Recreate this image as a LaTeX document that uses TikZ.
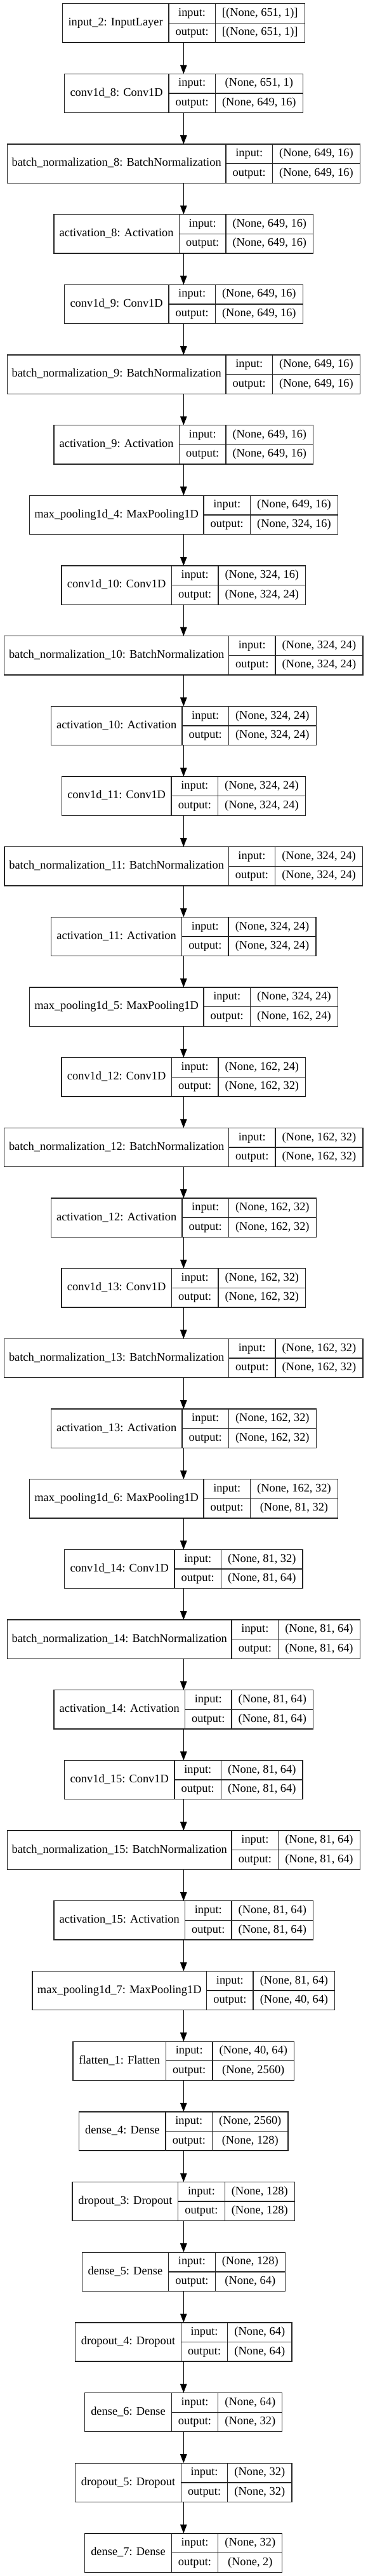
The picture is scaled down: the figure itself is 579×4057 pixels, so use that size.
\documentclass[tikz,border=0pt]{standalone}
\usepackage{fontspec}
\setmainfont{Liberation Serif}
\usetikzlibrary{arrows.meta}
\font\lbfont="Liberation Serif" at 18.4pt
\newcommand\us{\char"5F\relax}
\newlength\nmW \newlength\kyW \newlength\vlW \newlength\vlWb \newlength\totW
\tikzset{
  box/.style={draw=black!85, line width=1.33pt, inner sep=0pt, outer sep=0pt},
  divline/.style={draw=black!85, line width=1.33pt},
  txt/.style={inner sep=0pt, font=\lbfont, text height=12.5pt, text depth=4pt, anchor=center},
  arr/.style={draw=black, line width=1.33pt, -{Triangle[length=14pt, width=10.5pt]}}
}
\newcommand\mklayer[5]{%
  \setbox0=\hbox{\lbfont #3}\nmW=0.98\wd0 \advance\nmW by 21.33pt
  \setbox0=\hbox{\lbfont output:}\kyW=\wd0 \advance\kyW by 21.33pt
  \setbox0=\hbox{\lbfont #4}\vlW=\wd0
  \setbox0=\hbox{\lbfont #5}\vlWb=\wd0
  \ifdim\vlWb>\vlW \vlW=\vlWb\fi \advance\vlW by 21.33pt
  \totW=\nmW \advance\totW by \kyW \advance\totW by \vlW
  \pgfmathsetmacro\ytop{5.7+#2*110.67}
  \pgfmathsetmacro\ybot{\ytop+61.3}
  \pgfmathsetmacro\yc{\ytop+30.65}
  \pgfmathsetmacro\xl{289.3-0.5*\the\totW}
  \pgfmathsetmacro\xa{\xl+\the\nmW}
  \pgfmathsetmacro\xb{\xa+\the\kyW}
  \pgfmathsetmacro\xr{\xl+\the\totW}
  \node[box, minimum width=\totW, minimum height=61.3pt] (#1) at (289.3,\yc) {};
  \draw[divline] (\xa,\ytop) -- (\xa,\ybot);
  \draw[divline] (\xb,\ytop) -- (\xb,\ybot);
  \draw[divline] (\xa,\yc) -- (\xr,\yc);
  \node[txt] (#1n) at ({(\xl+\xa)/2},\yc) {#3};
  \node[txt] (#1ki) at ({(\xa+\xb)/2},{\yc-15.3}) {input:};
  \node[txt] (#1ko) at ({(\xa+\xb)/2},{\yc+15.3}) {output:};
  \node[txt] (#1vi) at ({(\xb+\xr)/2},{\yc-15.3}) {#4};
  \node[txt] (#1vo) at ({(\xb+\xr)/2},{\yc+15.3}) {#5};
}
\begin{document}
\begin{tikzpicture}[x=1pt,y=-1pt]
\fill[white] (0,0) rectangle (579,4057);
\useasboundingbox (0,0) rectangle (579,4057);
\mklayer{l0}{0}{input\us 2: InputLayer}{[(None, 651, 1)]}{[(None, 651, 1)]}
\mklayer{l1}{1}{conv1d\us 8: Conv1D}{(None, 651, 1)}{(None, 649, 16)}
\mklayer{l2}{2}{batch\us normalization\us 8: BatchNormalization}{(None, 649, 16)}{(None, 649, 16)}
\mklayer{l3}{3}{activation\us 8: Activation}{(None, 649, 16)}{(None, 649, 16)}
\mklayer{l4}{4}{conv1d\us 9: Conv1D}{(None, 649, 16)}{(None, 649, 16)}
\mklayer{l5}{5}{batch\us normalization\us 9: BatchNormalization}{(None, 649, 16)}{(None, 649, 16)}
\mklayer{l6}{6}{activation\us 9: Activation}{(None, 649, 16)}{(None, 649, 16)}
\mklayer{l7}{7}{max\us pooling1d\us 4: MaxPooling1D}{(None, 649, 16)}{(None, 324, 16)}
\mklayer{l8}{8}{conv1d\us 10: Conv1D}{(None, 324, 16)}{(None, 324, 24)}
\mklayer{l9}{9}{batch\us normalization\us 10: BatchNormalization}{(None, 324, 24)}{(None, 324, 24)}
\mklayer{l10}{10}{activation\us 10: Activation}{(None, 324, 24)}{(None, 324, 24)}
\mklayer{l11}{11}{conv1d\us 11: Conv1D}{(None, 324, 24)}{(None, 324, 24)}
\mklayer{l12}{12}{batch\us normalization\us 11: BatchNormalization}{(None, 324, 24)}{(None, 324, 24)}
\mklayer{l13}{13}{activation\us 11: Activation}{(None, 324, 24)}{(None, 324, 24)}
\mklayer{l14}{14}{max\us pooling1d\us 5: MaxPooling1D}{(None, 324, 24)}{(None, 162, 24)}
\mklayer{l15}{15}{conv1d\us 12: Conv1D}{(None, 162, 24)}{(None, 162, 32)}
\mklayer{l16}{16}{batch\us normalization\us 12: BatchNormalization}{(None, 162, 32)}{(None, 162, 32)}
\mklayer{l17}{17}{activation\us 12: Activation}{(None, 162, 32)}{(None, 162, 32)}
\mklayer{l18}{18}{conv1d\us 13: Conv1D}{(None, 162, 32)}{(None, 162, 32)}
\mklayer{l19}{19}{batch\us normalization\us 13: BatchNormalization}{(None, 162, 32)}{(None, 162, 32)}
\mklayer{l20}{20}{activation\us 13: Activation}{(None, 162, 32)}{(None, 162, 32)}
\mklayer{l21}{21}{max\us pooling1d\us 6: MaxPooling1D}{(None, 162, 32)}{(None, 81, 32)}
\mklayer{l22}{22}{conv1d\us 14: Conv1D}{(None, 81, 32)}{(None, 81, 64)}
\mklayer{l23}{23}{batch\us normalization\us 14: BatchNormalization}{(None, 81, 64)}{(None, 81, 64)}
\mklayer{l24}{24}{activation\us 14: Activation}{(None, 81, 64)}{(None, 81, 64)}
\mklayer{l25}{25}{conv1d\us 15: Conv1D}{(None, 81, 64)}{(None, 81, 64)}
\mklayer{l26}{26}{batch\us normalization\us 15: BatchNormalization}{(None, 81, 64)}{(None, 81, 64)}
\mklayer{l27}{27}{activation\us 15: Activation}{(None, 81, 64)}{(None, 81, 64)}
\mklayer{l28}{28}{max\us pooling1d\us 7: MaxPooling1D}{(None, 81, 64)}{(None, 40, 64)}
\mklayer{l29}{29}{flatten\us 1: Flatten}{(None, 40, 64)}{(None, 2560)}
\mklayer{l30}{30}{dense\us 4: Dense}{(None, 2560)}{(None, 128)}
\mklayer{l31}{31}{dropout\us 3: Dropout}{(None, 128)}{(None, 128)}
\mklayer{l32}{32}{dense\us 5: Dense}{(None, 128)}{(None, 64)}
\mklayer{l33}{33}{dropout\us 4: Dropout}{(None, 64)}{(None, 64)}
\mklayer{l34}{34}{dense\us 6: Dense}{(None, 64)}{(None, 32)}
\mklayer{l35}{35}{dropout\us 5: Dropout}{(None, 32)}{(None, 32)}
\mklayer{l36}{36}{dense\us 7: Dense}{(None, 32)}{(None, 2)}
\foreach \i in {0,...,35}{
  \pgfmathtruncatemacro\j{\i+1}
  \draw[arr] (l\i.south) -- (l\j.north);
}
\end{tikzpicture}
\end{document}
